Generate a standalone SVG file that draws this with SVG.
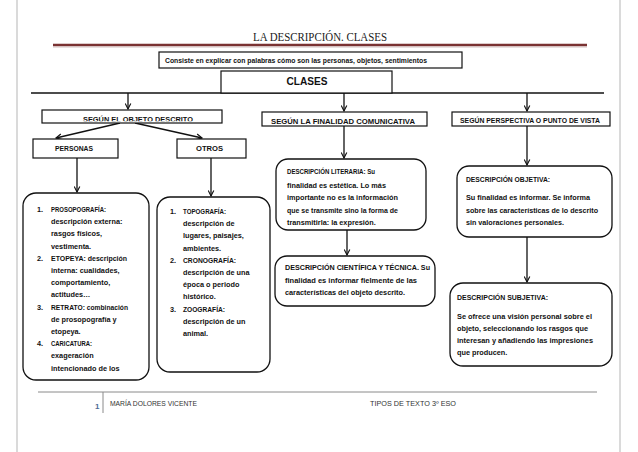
<svg xmlns="http://www.w3.org/2000/svg" width="638" height="452" viewBox="0 0 638 452">
<style>
.box{fill:#fff;stroke:#111;stroke-width:1.2}
.rbox{fill:#fff;stroke:#111;stroke-width:1.3}
.t{font-family:"Liberation Sans",Arial,sans-serif;font-size:7.3px;font-weight:bold;fill:#111}
.h{font-family:"Liberation Sans",Arial,sans-serif;font-size:7px;font-weight:bold;fill:#111}
.f{font-family:"Liberation Sans",Arial,sans-serif;font-size:7px;fill:#333}
.c{stroke:#111;stroke-width:1.3;fill:none}
</style>
<defs>
<marker id="arr" viewBox="0 0 10 10" refX="9" refY="5" markerWidth="7" markerHeight="7" orient="auto" markerUnits="userSpaceOnUse">
<path d="M1,1 L9,5 L1,9" fill="none" stroke="#111" stroke-width="1.6"/>
</marker>
<clipPath id="clipObj"><rect x="42" y="110" width="180" height="11.2"/></clipPath>
</defs>
<rect width="638" height="452" fill="#fff"/>
<g id="page">
<line x1="17" y1="0" x2="17" y2="452" stroke="#b5b5b5" stroke-width="1"/>
<line x1="620" y1="0" x2="620" y2="452" stroke="#b5b5b5" stroke-width="1"/>
<text x="320" y="41" text-anchor="middle" font-family="'Liberation Serif',serif" font-size="11.5" fill="#222" textLength="134" lengthAdjust="spacingAndGlyphs">LA DESCRIPCIÓN. CLASES</text>
<line x1="53" y1="45" x2="587" y2="45" stroke="#7a3232" stroke-width="2.5"/>
<line x1="53" y1="47" x2="587" y2="47" stroke="#c9b0b0" stroke-width="0.8"/>
</g>
<g id="connectors">
<line x1="31" y1="93" x2="604" y2="93" stroke="#111" stroke-width="1.6"/>
<line class="c" x1="128" y1="93" x2="128" y2="109" marker-end="url(#arr)"/>
<line class="c" x1="344" y1="93" x2="344" y2="111" marker-end="url(#arr)"/>
<line class="c" x1="527" y1="93" x2="527" y2="111" marker-end="url(#arr)"/>
<line class="c" x1="120" y1="123" x2="56" y2="138" marker-end="url(#arr)"/>
<line class="c" x1="135" y1="123" x2="202" y2="138" marker-end="url(#arr)"/>
<line class="c" x1="77" y1="158" x2="77" y2="192" marker-end="url(#arr)"/>
<line class="c" x1="211" y1="158" x2="211" y2="196" stroke="#444" stroke-width="1.6" marker-end="url(#arr)"/>
<line class="c" x1="344" y1="126" x2="344" y2="158" marker-end="url(#arr)"/>
<line class="c" x1="347" y1="230" x2="347" y2="255" marker-end="url(#arr)"/>
<line class="c" x1="527" y1="126" x2="527" y2="165" marker-end="url(#arr)"/>
<line class="c" x1="527" y1="237" x2="527" y2="282" marker-end="url(#arr)"/>
</g>
<g id="consiste">
<rect class="box" x="159" y="52" width="303" height="16"/>
<text class="h" x="165" y="63" font-size="6.3" textLength="262" lengthAdjust="spacingAndGlyphs">Consiste en explicar con palabras cómo son las personas, objetos, sentimientos</text>
</g>
<g id="clases">
<rect class="box" x="221" y="71" width="171" height="22"/>
<text x="307" y="85" text-anchor="middle" font-family="'Liberation Sans',Arial,sans-serif" font-weight="bold" font-size="11.5" fill="#111" textLength="41" lengthAdjust="spacingAndGlyphs">CLASES</text>
</g>
<g id="objeto">
<rect class="box" x="42" y="110" width="180" height="13"/>
<text class="h" x="83" y="122.3" clip-path="url(#clipObj)" textLength="110" lengthAdjust="spacingAndGlyphs">SEGÚN EL OBJETO DESCRITO</text>
</g>
<g id="finalidad">
<rect class="box" x="262" y="112" width="165" height="14"/>
<text class="h" x="271" y="123.5" textLength="144" lengthAdjust="spacingAndGlyphs">SEGÚN LA FINALIDAD COMUNICATIVA</text>
</g>
<g id="perspectiva">
<rect class="box" x="452" y="112" width="158" height="14"/>
<text class="h" x="460" y="122.5" font-size="6.5" textLength="140" lengthAdjust="spacingAndGlyphs">SEGÚN PERSPECTIVA O PUNTO DE VISTA</text>
</g>
<g id="personas">
<rect class="box" x="33" y="139" width="85" height="19"/>
<text class="h" x="55" y="151" font-size="6.5" textLength="38" lengthAdjust="spacingAndGlyphs">PERSONAS</text>
</g>
<g id="otros">
<rect class="box" x="177" y="139" width="69" height="19"/>
<text class="h" x="196" y="151" font-size="6.5" textLength="27" lengthAdjust="spacingAndGlyphs">OTROS</text>
</g>
<g id="prosopografia">
<rect class="rbox" x="23" y="193" width="126" height="187" rx="13" ry="13"/>
<text class="t" x="37" y="212">1.</text>
<text class="t" x="51" y="212" textLength="55" lengthAdjust="spacingAndGlyphs">PROSOPOGRAFÍA:</text>
<text class="t" x="51" y="224.2">descripción externa:</text>
<text class="t" x="51" y="236.4">rasgos físicos,</text>
<text class="t" x="51" y="248.6">vestimenta.</text>
<text class="t" x="37" y="260.8">2.</text>
<text class="t" x="51" y="260.8" textLength="76" lengthAdjust="spacingAndGlyphs">ETOPEYA:  descripción</text>
<text class="t" x="51" y="273">interna: cualidades,</text>
<text class="t" x="51" y="285.2">comportamiento,</text>
<text class="t" x="51" y="297.4">actitudes…</text>
<text class="t" x="37" y="309.6">3.</text>
<text class="t" x="51" y="309.6" textLength="77" lengthAdjust="spacingAndGlyphs">RETRATO: combinación</text>
<text class="t" x="51" y="321.8">de prosopografía y</text>
<text class="t" x="51" y="334">etopeya.</text>
<text class="t" x="37" y="346.2">4.</text>
<text class="t" x="51" y="346.2" textLength="41" lengthAdjust="spacingAndGlyphs">CARICATURA:</text>
<text class="t" x="51" y="358.4">exageración</text>
<text class="t" x="51" y="370.6">intencionado de los</text>
</g>
<g id="topografia">
<rect class="rbox" x="157" y="197" width="113" height="175" rx="13" ry="13"/>
<text class="t" x="170" y="214">1.</text>
<text class="t" x="183" y="214" textLength="43" lengthAdjust="spacingAndGlyphs">TOPOGRAFÍA:</text>
<text class="t" x="183" y="226.2">descripción de</text>
<text class="t" x="183" y="238.4">lugares, paisajes,</text>
<text class="t" x="183" y="250.6">ambientes.</text>
<text class="t" x="170" y="262.8">2.</text>
<text class="t" x="183" y="262.8" textLength="53" lengthAdjust="spacingAndGlyphs">CRONOGRAFÍA:</text>
<text class="t" x="183" y="275">descripción de una</text>
<text class="t" x="183" y="287.2">época o periodo</text>
<text class="t" x="183" y="299.4">histórico.</text>
<text class="t" x="170" y="311.6">3.</text>
<text class="t" x="183" y="311.6" textLength="42" lengthAdjust="spacingAndGlyphs">ZOOGRAFÍA:</text>
<text class="t" x="183" y="323.8">descripción de un</text>
<text class="t" x="183" y="336">animal.</text>
</g>
<g id="literaria">
<rect class="rbox" x="276" y="159" width="150" height="71" rx="12" ry="12"/>
<text class="t" x="287" y="174" textLength="88" lengthAdjust="spacingAndGlyphs">DESCRIPCIÓN LITERARIA: Su</text>
<text class="t" x="287" y="187.5">finalidad es estética. Lo más</text>
<text class="t" x="287" y="200" textLength="111" lengthAdjust="spacingAndGlyphs">importante no es la información</text>
<text class="t" x="287" y="212.5" textLength="111" lengthAdjust="spacingAndGlyphs">que se transmite sino la forma de</text>
<text class="t" x="287" y="225">transmitirla: la expresión.</text>
</g>
<g id="cientifica">
<rect class="rbox" x="275" y="256" width="160" height="50" rx="12" ry="12"/>
<text class="t" x="285" y="270" textLength="145" lengthAdjust="spacingAndGlyphs">DESCRIPCIÓN CIENTÍFICA Y TÉCNICA. Su</text>
<text class="t" x="285" y="283" textLength="132" lengthAdjust="spacingAndGlyphs">finalidad es informar fielmente de las</text>
<text class="t" x="285" y="295" textLength="120" lengthAdjust="spacingAndGlyphs">características del objeto descrito.</text>
</g>
<g id="objetiva">
<rect class="rbox" x="457" y="166" width="155" height="71" rx="12" ry="12"/>
<text class="t" x="466" y="182" textLength="84" lengthAdjust="spacingAndGlyphs">DESCRIPCIÓN OBJETIVA:</text>
<text class="t" x="466" y="200" textLength="124" lengthAdjust="spacingAndGlyphs">Su finalidad es informar. Se informa</text>
<text class="t" x="466" y="212.5" textLength="132" lengthAdjust="spacingAndGlyphs">sobre las características de lo descrito</text>
<text class="t" x="466" y="224.5" textLength="98" lengthAdjust="spacingAndGlyphs">sin valoraciones personales.</text>
</g>
<g id="subjetiva">
<rect class="rbox" x="450" y="283" width="162" height="83" rx="13" ry="13"/>
<text class="t" x="457" y="300" textLength="91" lengthAdjust="spacingAndGlyphs">DESCRIPCIÓN SUBJETIVA:</text>
<text class="t" x="457" y="319" textLength="135" lengthAdjust="spacingAndGlyphs">Se ofrece una visión personal sobre el</text>
<text class="t" x="457" y="331" textLength="131" lengthAdjust="spacingAndGlyphs">objeto, seleccionando los rasgos que</text>
<text class="t" x="457" y="343" textLength="136" lengthAdjust="spacingAndGlyphs">interesan y añadiendo las impresiones</text>
<text class="t" x="457" y="355">que  producen.</text>
</g>
<g id="footer">
<line x1="38" y1="392" x2="597" y2="392" stroke="#8a8a8a" stroke-width="1"/>
<line x1="103" y1="392" x2="103" y2="413" stroke="#8a8a8a" stroke-width="1"/>
<text x="95" y="409" font-family="'Liberation Sans',Arial,sans-serif" font-size="8" font-weight="bold" fill="#4f6b96">1</text>
<text class="f" x="110" y="406" textLength="87" lengthAdjust="spacingAndGlyphs">MARÍA DOLORES VICENTE</text>
<text class="f" x="370" y="406" textLength="86" lengthAdjust="spacingAndGlyphs">TIPOS DE TEXTO   3º ESO</text>
</g>
</svg>
